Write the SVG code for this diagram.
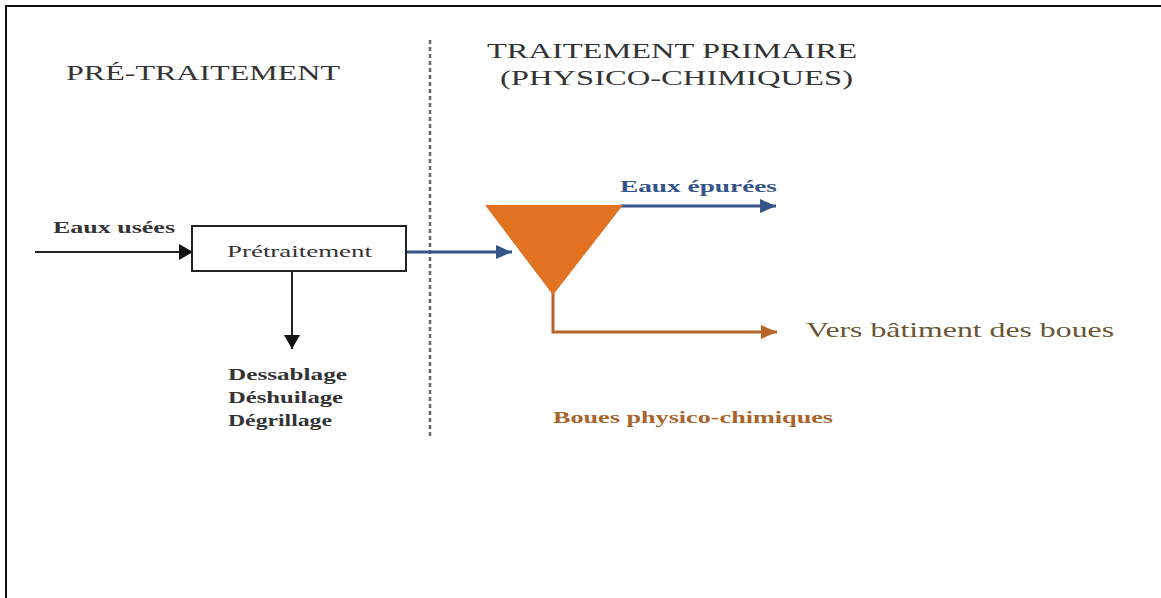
<svg xmlns="http://www.w3.org/2000/svg" width="1161" height="598" viewBox="0 0 1161 598">
<style>
text{font-family:"Liberation Serif","DejaVu Serif",serif;}
.h{font-size:22px;fill:#333;}
.lbl{font-size:16px;fill:#333;}
.k{stroke:#222;stroke-width:2;fill:none;}
.b{stroke:#34548a;stroke-width:3;fill:none;}
.o{stroke:#b5652a;stroke-width:3;fill:none;}
</style>
<defs>
<marker id="ak" markerWidth="14" markerHeight="16" refX="14" refY="8" orient="auto" markerUnits="userSpaceOnUse"><path d="M0,0 L14,8 L0,16 z" fill="#111"/></marker>
<marker id="ab" markerWidth="16" markerHeight="14" refX="16" refY="7" orient="auto" markerUnits="userSpaceOnUse"><path d="M0,0 L16,7 L0,14 z" fill="#34548a"/></marker>
<marker id="ao" markerWidth="16" markerHeight="14" refX="16" refY="7" orient="auto" markerUnits="userSpaceOnUse"><path d="M0,0 L16,7 L0,14 z" fill="#b5652a"/></marker>
</defs>
<rect width="1161" height="598" fill="#fff"/>
<path d="M6,598 V6 H1161" stroke="#111" stroke-width="2" fill="none"/>
<line x1="430" y1="40" x2="430" y2="438" stroke="#666" stroke-width="2.5" stroke-dasharray="4,3"/>
<g id="titles">
<text class="h" x="66" y="80" textLength="274" lengthAdjust="spacingAndGlyphs">PRÉ-TRAITEMENT</text>
<text class="h" x="487" y="58" textLength="370" lengthAdjust="spacingAndGlyphs">TRAITEMENT PRIMAIRE</text>
<text class="h" x="500" y="85" textLength="353" lengthAdjust="spacingAndGlyphs">(PHYSICO-CHIMIQUES)</text>
</g>
<g id="connectors">
<line class="k" x1="35" y1="252" x2="193" y2="252" marker-end="url(#ak)"/>
<line class="k" x1="292" y1="271" x2="292" y2="349" marker-end="url(#ak)"/>
<line class="b" x1="406" y1="252" x2="512" y2="252" marker-end="url(#ab)"/>
<line class="b" x1="620" y1="206" x2="776" y2="206" marker-end="url(#ab)"/>
<polyline class="o" points="553,292 553,332 777,332" marker-end="url(#ao)"/>
</g>
<g id="node-pretraitement">
<rect x="192" y="226" width="214" height="45" fill="#fff" stroke="#222" stroke-width="2"/>
<text class="lbl" x="227" y="257" textLength="145" lengthAdjust="spacingAndGlyphs">Prétraitement</text>
</g>
<g id="node-decanteur">
<polygon points="485,205 623,205 553,295" fill="#e07222"/>
</g>
<g id="labels">
<text class="lbl" x="53" y="233" font-weight="bold" textLength="122" lengthAdjust="spacingAndGlyphs">Eaux usées</text>
<text class="lbl" x="228" y="380" font-weight="bold" textLength="119" lengthAdjust="spacingAndGlyphs">Dessablage</text>
<text class="lbl" x="228" y="403" font-weight="bold" textLength="115" lengthAdjust="spacingAndGlyphs">Déshuilage</text>
<text class="lbl" x="228" y="426" font-weight="bold" textLength="104" lengthAdjust="spacingAndGlyphs">Dégrillage</text>
<text x="620" y="192" font-size="16" font-weight="bold" fill="#34548a" textLength="157" lengthAdjust="spacingAndGlyphs">Eaux épurées</text>
<text x="806" y="337" font-size="22" fill="#6a5535" textLength="308" lengthAdjust="spacingAndGlyphs">Vers bâtiment des boues</text>
<text x="553" y="423" font-size="16" font-weight="bold" fill="#a8642c" textLength="280" lengthAdjust="spacingAndGlyphs">Boues physico-chimiques</text>
</g>
</svg>
